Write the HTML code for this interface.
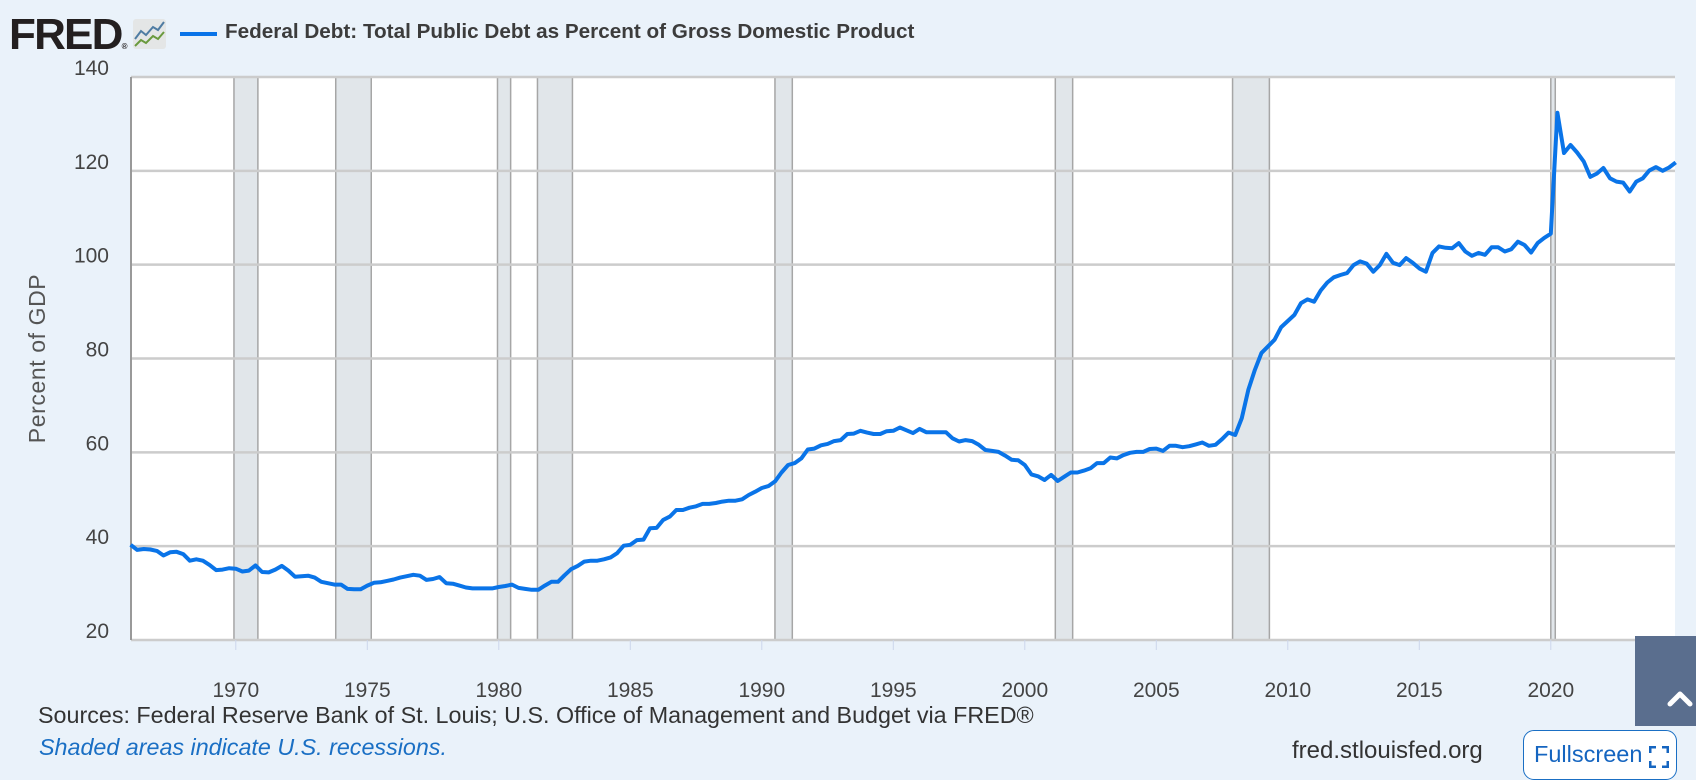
<!DOCTYPE html>
<html><head><meta charset="utf-8">
<style>
html,body{margin:0;padding:0;}
body{width:1696px;height:772px;background:#eaf2fa;position:relative;overflow:hidden;font-family:"Liberation Sans",sans-serif;}
.abs{position:absolute;}
</style></head>
<body>
<div class="abs" style="left:9px;top:13px;font-weight:bold;font-size:44px;letter-spacing:-1.8px;color:#231f20;line-height:44px;">FRED<span style="font-size:8px;letter-spacing:0">®</span></div>
<svg class="abs" style="left:133px;top:19px" width="34" height="31" viewBox="0 0 34 31">
<rect x="0" y="0" width="33" height="30" rx="3" fill="#e4e6e6"/>
<polyline points="2,20 8,12 13,16 20,8 25,11 31,3" fill="none" stroke="#4f7ca3" stroke-width="2"/>
<polyline points="2,27 8,21 13,24 20,17 25,20 31,13" fill="none" stroke="#6a9a3e" stroke-width="2"/>
</svg>
<div class="abs" style="left:180px;top:32px;width:37px;height:4px;background:#0a74e8;"></div>
<div class="abs" style="left:225px;top:20px;font-size:20.7px;font-weight:bold;color:#3c3c3c;">Federal Debt: Total Public Debt as Percent of Gross Domestic Product</div>

<svg class="abs" id="chart" style="left:0;top:0" width="1696" height="772"></svg>

<div class="abs" style="left:-60px;top:345px;width:195px;text-align:center;transform:rotate(-90deg);font-size:23px;color:#555;letter-spacing:0.6px;">Percent of GDP</div>

<div class="abs" style="left:38px;top:702px;font-size:23.3px;color:#333;">Sources: Federal Reserve Bank of St. Louis; U.S. Office of Management and Budget via FRED®</div>
<div class="abs" style="left:39px;top:734px;font-size:23.3px;color:#1a6fc4;font-style:italic;">Shaded areas indicate U.S. recessions.</div>
<div class="abs" style="left:1292px;top:737px;font-size:24px;color:#333;">fred.stlouisfed.org</div>
<div class="abs" style="left:1523px;top:730px;width:154px;height:50px;border:1.5px solid #1a6fc4;border-radius:11px;background:#fff;box-sizing:border-box;">
<span style="position:absolute;left:10px;top:10px;font-size:23.5px;color:#1565c0;">Fullscreen</span>
<svg style="position:absolute;left:125px;top:15px" width="20" height="22" viewBox="0 0 20 22"><path d="M1 7V1H7M13 1H19V7M19 15V21H13M7 21H1V15" fill="none" stroke="#1565c0" stroke-width="3"/></svg>
</div>
<div class="abs" style="left:1635px;top:636px;width:61px;height:90px;background:#5a6e8e;">
<svg style="position:absolute;left:32px;top:53px" width="26" height="18" viewBox="0 0 26 18"><polyline points="3,15 13,5 23,15" fill="none" stroke="#fff" stroke-width="5" stroke-linecap="round" stroke-linejoin="round"/></svg>
</div>

<script>
const startYear = 1966;
const debtValues = [
40.3,39.2,39.4,39.3, 39.0,38.0,38.7,38.8, 38.3,36.9,37.2,36.9, 36.0,34.9,35.0,35.3,
35.2,34.6,34.8,35.9, 34.5,34.4,35.0,35.8, 34.8,33.5,33.6,33.7, 33.3,32.4,32.1,31.8,
31.8,30.9,30.8,30.8, 31.6,32.2,32.3,32.6, 32.9,33.3,33.6,33.9, 33.7,32.8,33.0,33.4,
32.1,32.0,31.6,31.2, 31.0,31.0,31.0,31.0, 31.3,31.5,31.8,31.1, 30.9,30.7,30.7,31.6,
32.4,32.4,33.8,35.1, 35.8,36.7,36.9,36.9, 37.2,37.6,38.5,40.1, 40.3,41.3,41.4,43.8,
43.9,45.6,46.3,47.7, 47.7,48.2,48.5,49.0, 49.0,49.2,49.5,49.7, 49.7,50.0,50.9,51.6,
52.4,52.8,53.8,55.7, 57.3,57.7,58.7,60.6, 60.8,61.5,61.8,62.4, 62.6,63.9,64.0,64.6,
64.2,63.9,63.9,64.5, 64.6,65.3,64.7,64.1, 65.0,64.3,64.3,64.3, 64.3,63.0,62.3,62.6,
62.4,61.6,60.5,60.3, 60.1,59.3,58.4,58.3, 57.3,55.3,54.9,54.1, 55.2,53.9,54.8,55.7,
55.7,56.1,56.6,57.7, 57.7,58.9,58.7,59.4, 59.9,60.1,60.1,60.7, 60.8,60.3,61.4,61.4,
61.1,61.3,61.7,62.1, 61.4,61.6,62.8,64.2, 63.7,67.3,73.3,77.6, 81.2,82.6,84.0,86.7,
88.0,89.3,91.8,92.6, 92.1,94.5,96.2,97.3, 97.8,98.2,99.9,100.7, 100.2,98.5,99.9,102.3,
100.4,99.9,101.4,100.4, 99.2,98.5,102.5,103.9, 103.6,103.5,104.6,102.8, 101.9,102.5,102.1,103.7,
103.7,102.8,103.3,104.9, 104.2,102.6,104.6,105.7, 106.6,132.4,123.8,125.5, 123.9,122.0,118.7,119.4,
120.6,118.4,117.7,117.5, 115.6,117.7,118.4,120.1, 120.8,120.0,120.7,121.8
];
const recessionStarts = [1969.93,1973.8,1979.95,1981.47,1990.5,2001.16,2007.9,2020.0];
const recessionEnds = [1970.84,1975.15,1980.45,1982.8,1991.16,2001.82,2009.3,2020.17];
const yTicks = [20,40,60,80,100,120,140];
const xTicks = [1970,1975,1980,1985,1990,1995,2000,2005,2010,2015,2020];

const NS='http://www.w3.org/2000/svg';
const svg=document.getElementById('chart');
const L=131,R=1675,T=77,B=640;
const x=t=>130.6+(t-1966)*26.3;
const y=v=>B-(v-20)*(B-T)/120;
function mk(tag,attrs,parent){const e=document.createElementNS(NS,tag);for(const k in attrs)e.setAttribute(k,attrs[k]);(parent||svg).appendChild(e);return e;}

const bg=mk('rect',{x:L,y:T,width:R-L,height:B-T,fill:'#fff'});



recessionStarts.forEach((s,i)=>{
  const e=recessionEnds[i];
  const r=mk('rect',{x:x(s),y:T,width:x(e)-x(s),height:B-T,fill:'#e1e6ea'});
  
  
  [s,e].forEach(v=>{const l=mk('line',{x1:x(v),x2:x(v),y1:T,y2:B,stroke:'#a6a6a6','stroke-width':1.5});
    
    });
});

yTicks.forEach(v=>{
  const g=mk('line',{x1:L,x2:R,y1:y(v),y2:y(v),stroke:'#cccccc','stroke-width':2.5});
  
  
  const t=mk('text',{x:109,y:y(v)-2,'text-anchor':'end','font-size':21,fill:'#444','font-family':'Liberation Sans, sans-serif'});
  t.textContent=v;
  
  
});
const la=mk('line',{x1:L,x2:L,y1:T,y2:B,stroke:'#999','stroke-width':2});



xTicks.forEach(v=>{
  const tk=mk('line',{x1:x(v),x2:x(v),y1:B,y2:B+10,stroke:'#ccd6eb','stroke-width':1});
  
  
  const t=mk('text',{x:x(v),y:B+57,'text-anchor':'middle','font-size':21,fill:'#444','font-family':'Liberation Sans, sans-serif'});
  t.textContent=v;
  
  
});

const pts=debtValues.map((v,i)=>x(startYear+i/4).toFixed(1)+','+y(v).toFixed(1)).join(' ');
const line=mk('polyline',{points:pts,fill:'none',stroke:'#0a74e8','stroke-width':4,'stroke-linejoin':'round'});


</script>
</body></html>
